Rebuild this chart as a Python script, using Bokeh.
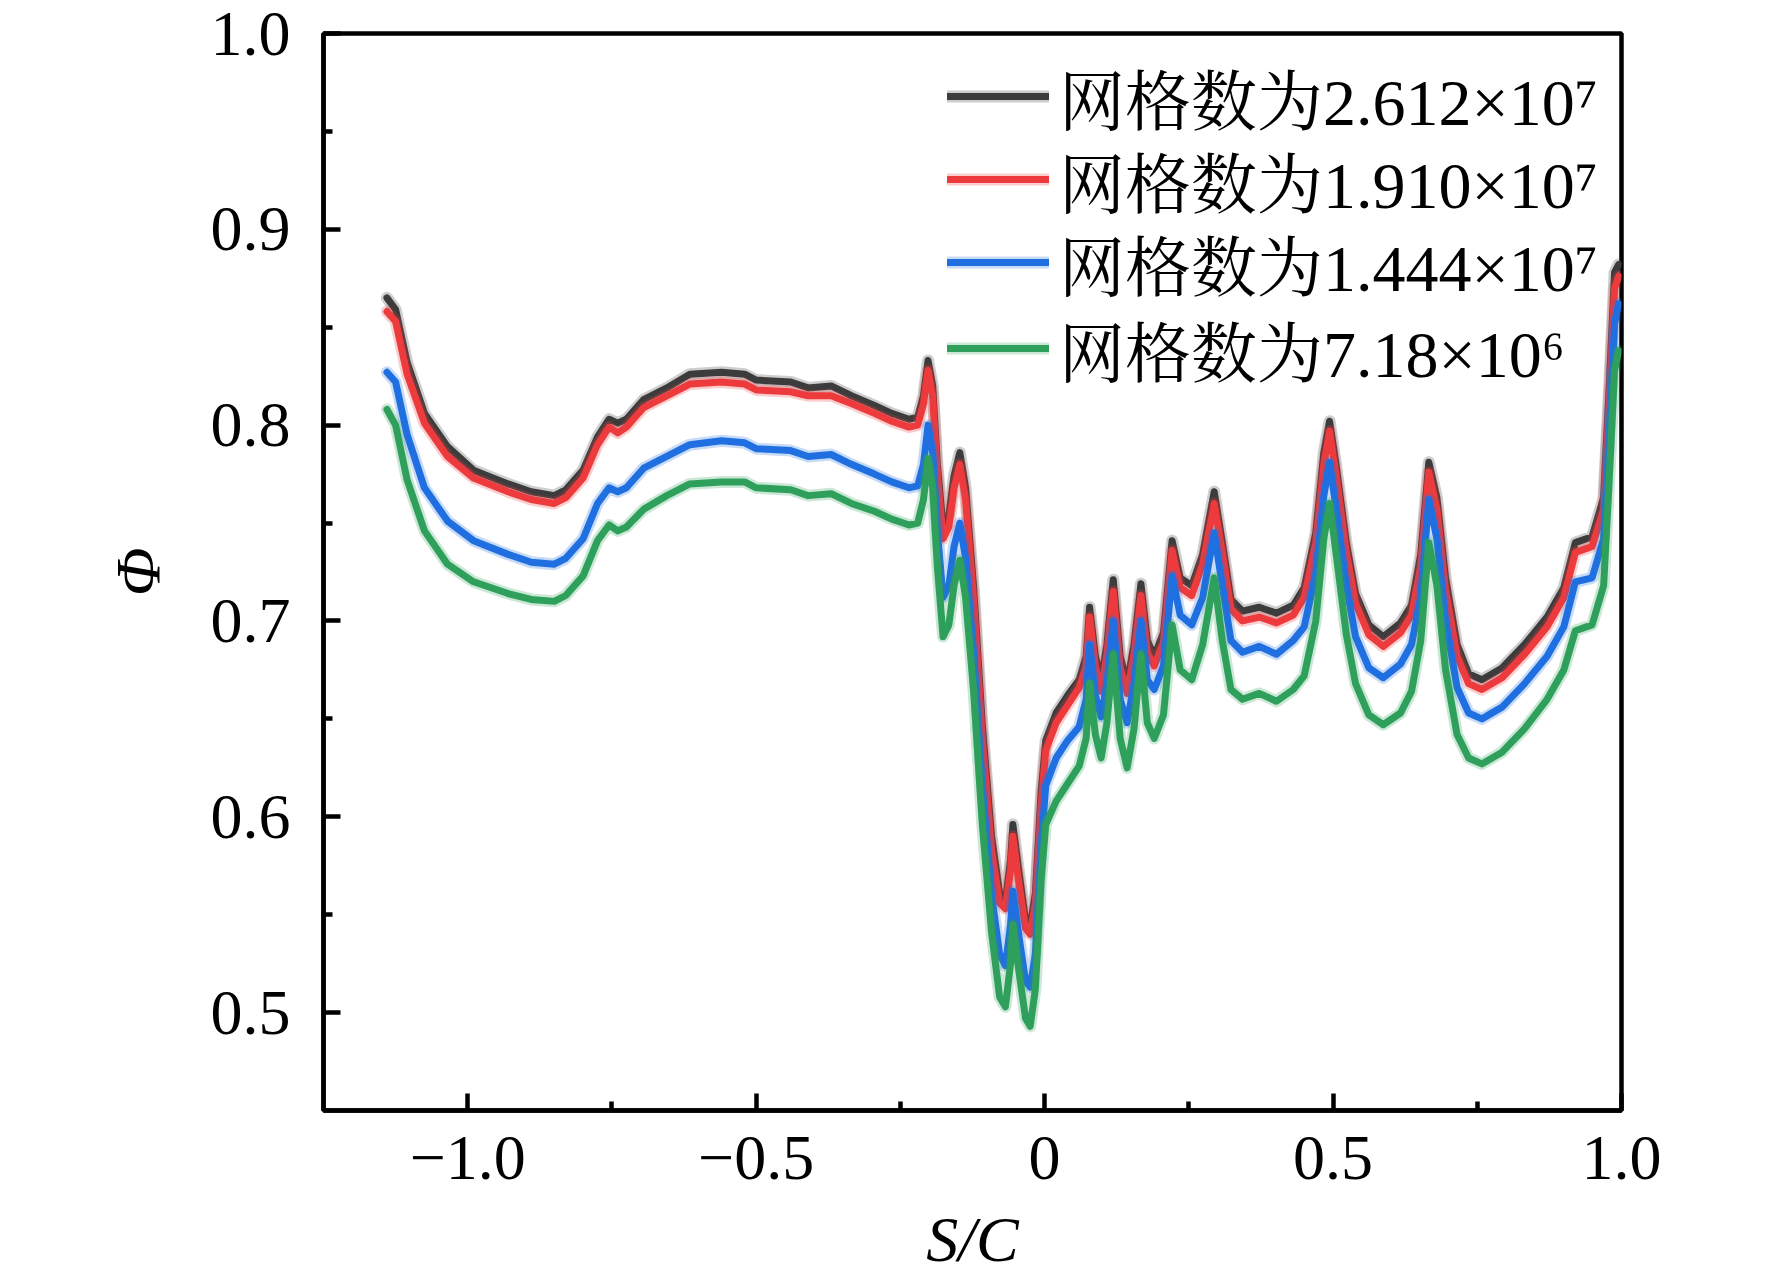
from bokeh.plotting import figure
from bokeh.models import FixedTicker, Legend, LegendItem, Range1d
from bokeh.embed import file_html
from bokeh.resources import INLINE

# S/C positions along the blade surface
sc = [-1.14, -1.125, -1.105, -1.075, -1.035, -0.99, -0.93, -0.89, -0.85, -0.83,
      -0.80, -0.775, -0.755, -0.74, -0.725, -0.695, -0.655, -0.615, -0.56, -0.52,
      -0.50, -0.44, -0.41, -0.37, -0.335, -0.295, -0.265, -0.235, -0.22, -0.21,
      -0.202, -0.194, -0.186, -0.176, -0.166, -0.157, -0.147, -0.137, -0.123, -0.108,
      -0.092, -0.078, -0.068, -0.059, -0.055, -0.045, -0.033, -0.025, -0.016, -0.006,
      0.002, 0.02, 0.04, 0.06, 0.072, 0.078, 0.088, 0.098, 0.108, 0.119,
      0.131, 0.143, 0.155, 0.167, 0.178, 0.19, 0.206, 0.221, 0.235, 0.255,
      0.274, 0.294, 0.308, 0.323, 0.343, 0.372, 0.402, 0.431, 0.45, 0.47,
      0.484, 0.494, 0.505, 0.523, 0.539, 0.562, 0.587, 0.617, 0.636, 0.652,
      0.666, 0.68, 0.695, 0.715, 0.735, 0.758, 0.793, 0.832, 0.871, 0.90,
      0.92, 0.949, 0.969, 0.978, 0.988, 0.995]

phi_2612 = [0.865, 0.859, 0.832, 0.806, 0.789, 0.777, 0.770, 0.766, 0.764, 0.767,
            0.777, 0.794, 0.803, 0.801, 0.803, 0.813, 0.819, 0.826, 0.827, 0.826,
            0.823, 0.822, 0.819, 0.820, 0.815, 0.810, 0.806, 0.803, 0.804, 0.815,
            0.833, 0.820, 0.780, 0.748, 0.754, 0.774, 0.786, 0.768, 0.717, 0.647,
            0.590, 0.561, 0.557, 0.578, 0.596, 0.573, 0.547, 0.544, 0.561, 0.613,
            0.639, 0.653, 0.662, 0.670, 0.682, 0.707, 0.682, 0.670, 0.688, 0.721,
            0.682, 0.668, 0.688, 0.719, 0.690, 0.682, 0.694, 0.741, 0.722, 0.718,
            0.734, 0.766, 0.740, 0.711, 0.705, 0.707, 0.704, 0.708, 0.717, 0.745,
            0.786, 0.802, 0.780, 0.740, 0.714, 0.698, 0.692, 0.699, 0.708, 0.734,
            0.781, 0.763, 0.722, 0.688, 0.673, 0.670, 0.676, 0.688, 0.702, 0.717,
            0.740, 0.743, 0.763, 0.815, 0.878, 0.882]

phi_1910 = [0.858, 0.853, 0.826, 0.801, 0.784, 0.773, 0.766, 0.762, 0.760, 0.763,
            0.773, 0.790, 0.799, 0.796, 0.799, 0.809, 0.815, 0.821, 0.822, 0.821,
            0.818, 0.817, 0.815, 0.815, 0.811, 0.806, 0.802, 0.799, 0.800, 0.811,
            0.828, 0.815, 0.775, 0.742, 0.748, 0.768, 0.780, 0.762, 0.711, 0.640,
            0.583, 0.556, 0.553, 0.573, 0.590, 0.567, 0.543, 0.540, 0.556, 0.606,
            0.634, 0.648, 0.657, 0.666, 0.677, 0.702, 0.677, 0.664, 0.683, 0.715,
            0.676, 0.663, 0.683, 0.713, 0.684, 0.677, 0.689, 0.736, 0.717, 0.713,
            0.729, 0.760, 0.735, 0.706, 0.700, 0.702, 0.699, 0.703, 0.712, 0.740,
            0.780, 0.797, 0.775, 0.735, 0.709, 0.693, 0.687, 0.694, 0.703, 0.728,
            0.776, 0.757, 0.716, 0.682, 0.668, 0.665, 0.671, 0.683, 0.697, 0.712,
            0.735, 0.738, 0.757, 0.808, 0.870, 0.876]

phi_1444 = [0.827, 0.822, 0.795, 0.768, 0.751, 0.741, 0.734, 0.730, 0.729, 0.732,
            0.742, 0.760, 0.768, 0.766, 0.768, 0.778, 0.784, 0.790, 0.792, 0.791,
            0.788, 0.787, 0.784, 0.785, 0.780, 0.775, 0.771, 0.768, 0.769, 0.780,
            0.800, 0.786, 0.746, 0.712, 0.718, 0.738, 0.750, 0.732, 0.683, 0.615,
            0.560, 0.530, 0.524, 0.545, 0.562, 0.540, 0.516, 0.513, 0.530, 0.585,
            0.616, 0.630, 0.639, 0.646, 0.660, 0.688, 0.662, 0.651, 0.668, 0.700,
            0.660, 0.648, 0.668, 0.700, 0.670, 0.665, 0.677, 0.723, 0.703, 0.698,
            0.712, 0.745, 0.718, 0.690, 0.684, 0.687, 0.683, 0.690, 0.697, 0.724,
            0.764, 0.781, 0.758, 0.718, 0.692, 0.676, 0.671, 0.678, 0.688, 0.712,
            0.762, 0.742, 0.700, 0.666, 0.653, 0.650, 0.656, 0.668, 0.682, 0.697,
            0.720, 0.722, 0.742, 0.792, 0.852, 0.862]

phi_718 = [0.808, 0.800, 0.772, 0.746, 0.729, 0.720, 0.714, 0.711, 0.710, 0.713,
           0.723, 0.741, 0.749, 0.746, 0.748, 0.757, 0.764, 0.770, 0.771, 0.771,
           0.768, 0.767, 0.764, 0.765, 0.760, 0.756, 0.752, 0.749, 0.750, 0.762,
           0.783, 0.768, 0.728, 0.692, 0.698, 0.718, 0.731, 0.712, 0.664, 0.596,
           0.541, 0.508, 0.503, 0.525, 0.545, 0.522, 0.497, 0.493, 0.512, 0.568,
           0.596, 0.608, 0.617, 0.626, 0.640, 0.668, 0.642, 0.630, 0.648, 0.683,
           0.640, 0.625, 0.645, 0.683, 0.648, 0.640, 0.652, 0.698, 0.675, 0.670,
           0.688, 0.722, 0.690, 0.665, 0.660, 0.663, 0.659, 0.665, 0.672, 0.700,
           0.742, 0.760, 0.735, 0.693, 0.668, 0.652, 0.647, 0.653, 0.664, 0.690,
           0.740, 0.718, 0.675, 0.642, 0.630, 0.627, 0.633, 0.645, 0.660, 0.675,
           0.695, 0.698, 0.718, 0.768, 0.828, 0.838]

labels = ["网格数为2.612×10⁷", "网格数为1.910×10⁷", "网格数为1.444×10⁷", "网格数为7.18×10⁶"]
colors = ["#3c3c3c", "#ec3a3d", "#1f6fe0", "#2f9f5c"]

x_ticks = [-1.0, -0.5, 0.0, 0.5, 1.0]
x_minor = [-0.75, -0.25, 0.25, 0.75]
x_tick_labels = ["−1.0", "−0.5", "0", "0.5", "1.0"]
y_ticks = [0.5, 0.6, 0.7, 0.8, 0.9, 1.0]
y_minor = [0.55, 0.65, 0.75, 0.85, 0.95]
y_tick_labels = ["0.5", "0.6", "0.7", "0.8", "0.9", "1.0"]

serif = "'Liberation Serif'"
legend_font = "'Liberation Serif', 'Noto Serif CJK SC', 'Noto Sans CJK SC'"

p = figure(frame_width=1298, frame_height=1077,
           x_range=Range1d(-1.25, 1.0), y_range=Range1d(0.45, 1.0),
           min_border_left=323, min_border_right=151,
           min_border_top=33, min_border_bottom=173,
           output_backend="svg", toolbar_location=None)

p.xgrid.visible = False
p.ygrid.visible = False
p.outline_line_color = "black"
p.outline_line_width = 4.5

p.xaxis.ticker = FixedTicker(ticks=x_ticks, minor_ticks=x_minor)
p.yaxis.ticker = FixedTicker(ticks=y_ticks, minor_ticks=y_minor)
p.xaxis.major_label_overrides = dict(zip(x_ticks, x_tick_labels))
p.yaxis.major_label_overrides = dict(zip(y_ticks, y_tick_labels))
p.xaxis.axis_label = "S/C"
p.yaxis.axis_label = "Φ"

for ax in (p.xaxis[0], p.yaxis[0]):
    ax.axis_line_width = 4.5
    ax.axis_line_color = "black"
    ax.major_tick_line_width = 4.5
    ax.minor_tick_line_width = 4.5
    ax.major_tick_line_color = "black"
    ax.minor_tick_line_color = "black"
    ax.major_tick_in = 17
    ax.major_tick_out = 0
    ax.minor_tick_in = 9
    ax.minor_tick_out = 0
    ax.major_label_text_font = serif
    ax.major_label_text_font_size = "64px"
    ax.major_label_text_color = "black"
    ax.axis_label_text_font = serif
    ax.axis_label_text_font_size = "64px"
    ax.axis_label_text_font_style = "italic"
    ax.axis_label_text_color = "black"

p.xaxis.major_label_standoff = 26
p.xaxis.axis_label_standoff = 22
p.yaxis.major_label_standoff = 33
p.yaxis.axis_label_standoff = 34

# one legend per row so the row pitch can follow the original (84 px)
row_offsets = [954, 871, 788, 702]

for lbl, col, ys, vy in zip(labels, colors, [phi_2612, phi_1910, phi_1444, phi_718], row_offsets):
    halo = p.line(sc, ys, line_color=col, line_width=12, line_alpha=0.25,
                  line_join="round", line_cap="round")
    core = p.line(sc, ys, line_color=col, line_width=7,
                  line_join="round", line_cap="round")
    leg = Legend(items=[LegendItem(label=lbl, renderers=[halo, core])],
                 location=(624, vy),
                 glyph_width=102, glyph_height=120, label_height=120,
                 spacing=0, padding=0, margin=0, label_standoff=10,
                 border_line_alpha=0, background_fill_alpha=0,
                 label_text_font=legend_font, label_text_font_size="66px",
                 label_text_color="black")
    p.add_layout(leg)

open("out.html", "w").write(file_html(p, INLINE))
